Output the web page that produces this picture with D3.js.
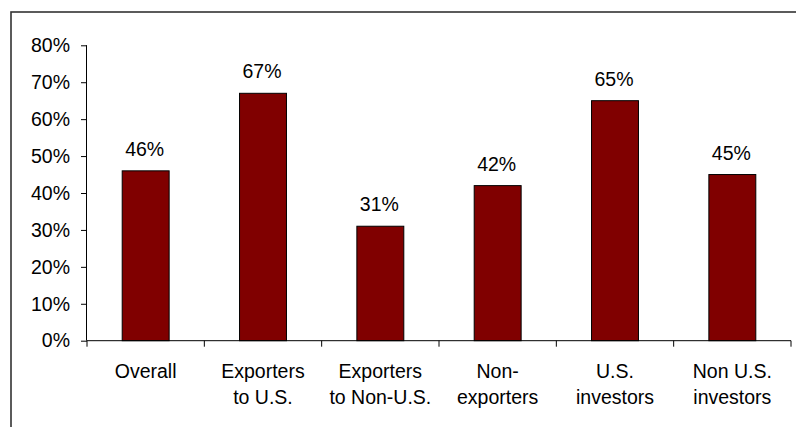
<!DOCTYPE html>
<html>
<head>
<meta charset="utf-8">
<script src="https://cdn.jsdelivr.net/npm/d3@7"></script>
<style>
  html, body { margin: 0; padding: 0; background: #fff; }
  svg { display: block; }
  text { font-family: "Liberation Sans", Arial, sans-serif; fill: #000; }
</style>
</head>
<body>
<svg id="chart" width="796" height="427"></svg>
<script>
// Share of firms by group
const categories = ["Overall", "Exporters to U.S.", "Exporters to Non-U.S.", "Non-exporters", "U.S. investors", "Non U.S. investors"];
const categoryLines = [["Overall"], ["Exporters", "to U.S."], ["Exporters", "to Non-U.S."], ["Non-", "exporters"], ["U.S.", "investors"], ["Non U.S.", "investors"]];
const values = [46, 67, 31, 42, 65, 45];
const yTicks = [0, 10, 20, 30, 40, 50, 60, 70, 80];

const svg = d3.select("#chart");
const W = 796, H = 427;
const plot = { left: 87, right: 791, top: 45.3, bottom: 340.7 };
const fontSize = 19.5;

// outer frame (only top and left edges fall inside the view)
svg.append("rect")
  .attr("x", 11).attr("y", 12)
  .attr("width", W + 20).attr("height", H + 20)
  .attr("fill", "none")
  .attr("stroke", "#333")
  .attr("stroke-width", 1.6);

const x = d3.scaleBand().domain(categories).range([plot.left, plot.right]).padding(0);
const y = d3.scaleLinear().domain([0, 80]).range([plot.bottom, plot.top]);

// y axis
const yAxis = d3.axisLeft(y)
  .tickValues(yTicks)
  .tickFormat(d => d + "%")
  .tickSize(6)
  .tickPadding(11);
const yg = svg.append("g").attr("transform", `translate(${plot.left},0)`).call(yAxis);
yg.select(".domain").attr("stroke", "#000").attr("d", `M-0.5,${plot.top}V${plot.bottom}`);
yg.selectAll(".tick line").attr("stroke", "#000");
yg.selectAll(".tick text")
  .style("font-family", "'Liberation Sans', Arial, sans-serif")
  .style("font-size", fontSize + "px")
  .attr("fill", "#000");

// bars
const bw = x.bandwidth();
svg.append("g").selectAll("rect")
  .data(categories)
  .join("rect")
  .attr("x", (c) => x(c) + bw * 0.3)
  .attr("width", bw * 0.4)
  .attr("y", (c, i) => y(values[i]))
  .attr("height", (c, i) => y(0) - y(values[i]))
  .attr("fill", "#800000")
  .attr("stroke", "#000")
  .attr("stroke-width", 1);

// value labels
svg.append("g").selectAll("text")
  .data(categories)
  .join("text")
  .attr("x", c => x(c) + bw / 2 - 1)
  .attr("y", (c, i) => y(values[i]) - 15)
  .attr("text-anchor", "middle")
  .style("font-size", fontSize + "px")
  .text((c, i) => values[i] + "%");

// x axis: baseline with ticks between categories
const xg = svg.append("g");
xg.append("line")
  .attr("x1", plot.left).attr("x2", plot.right)
  .attr("y1", plot.bottom).attr("y2", plot.bottom)
  .attr("stroke", "#000");
const boundaries = categories.map(c => x(c)).concat([x(categories[categories.length - 1]) + bw]);
xg.selectAll("line.tick")
  .data(boundaries)
  .join("line")
  .attr("class", "tick")
  .attr("x1", d => d).attr("x2", d => d)
  .attr("y1", plot.bottom).attr("y2", plot.bottom + 6)
  .attr("stroke", "#000");

// category labels
const lab = svg.append("g").selectAll("text")
  .data(categories)
  .join("text")
  .attr("x", c => x(c) + bw / 2)
  .attr("y", 377.5)
  .attr("text-anchor", "middle")
  .style("font-size", fontSize + "px");
lab.selectAll("tspan")
  .data((c, i) => categoryLines[i])
  .join("tspan")
  .attr("x", function () { return d3.select(this.parentNode).attr("x"); })
  .attr("dy", (d, j) => j === 0 ? 0 : 26.5)
  .text(d => d);
</script>
</body>
</html>
